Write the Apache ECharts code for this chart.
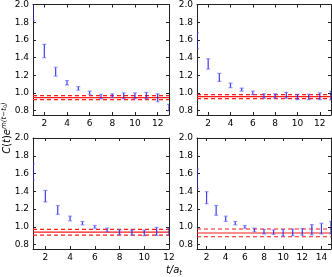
<!DOCTYPE html>
<html><head><meta charset="utf-8">
<script src="https://cdn.jsdelivr.net/npm/echarts@6/dist/echarts.min.js"></script>
<style>html,body{margin:0;padding:0;background:#fff}#c{width:332px;height:277px}</style>
</head><body><div id="c"></div>
<script>
// ---- data ----
const yTicks = [0.8, 1.0, 1.2, 1.4, 1.6, 1.8, 2.0];
const xTicksA = [2, 4, 6, 8, 10, 12];
const xTicksB = [2, 4, 6, 8, 10, 12, 14];

const tlX  = [1, 2, 3, 4, 5, 6, 7, 8, 9, 10, 11, 12, 13];
const tlLo = [1.82, 1.40, 1.19, 1.09, 1.03, 0.985, 0.935, 0.95, 0.935, 0.935, 0.935, 0.90, 0.80];
const tlHi = [2.10, 1.55, 1.29, 1.14, 1.07, 1.02, 0.985, 0.99, 1.00, 1.00, 1.005, 0.99, 0.87];
const tlFit = [0.947, 0.970, 0.925];

const trX  = [1, 2, 3, 4, 5, 6, 7, 8, 9, 10, 11, 12, 13];
const trLo = [1.50, 1.27, 1.13, 1.06, 1.02, 0.98, 0.94, 0.94, 0.94, 0.925, 0.925, 0.925, 0.92];
const trHi = [1.68, 1.385, 1.22, 1.11, 1.055, 1.02, 0.99, 0.99, 1.007, 0.985, 0.985, 1.00, 1.02];
const trFit = [0.957, 0.981, 0.935];

const blX  = [1, 2, 3, 4, 5, 6, 7, 8, 9, 10, 11, 12];
const blLo = [1.53, 1.28, 1.14, 1.067, 1.022, 0.985, 0.944, 0.914, 0.907, 0.90, 0.903, 0.91];
const blHi = [1.71, 1.41, 1.24, 1.12, 1.06, 1.015, 0.985, 0.966, 0.963, 0.963, 0.993, 0.985];
const blFit = [0.94, 0.97, 0.907];

const brX  = [1, 2, 3, 4, 5, 6, 7, 8, 9, 10, 11, 12, 13, 14, 15];
const brLo = [1.43, 1.26, 1.13, 1.06, 1.022, 0.985, 0.944, 0.92, 0.915, 0.895, 0.90, 0.905, 0.91, 0.92, 0.92];
const brHi = [1.65, 1.395, 1.24, 1.12, 1.06, 1.015, 0.985, 0.97, 0.965, 0.97, 0.975, 0.98, 1.025, 1.04, 1.06];
const brFit = [0.93, 0.975, 0.888];

const panels = [
  {x: tlX, lo: tlLo, hi: tlHi, fit: tlFit, xmin: 1, xmax: 13, xt: xTicksA, grid: {left: 33, top: 4, width: 136, height: 111}},
  {x: trX, lo: trLo, hi: trHi, fit: trFit, xmin: 1, xmax: 13, xt: xTicksA, grid: {left: 197, top: 4, width: 134, height: 111}},
  {x: blX, lo: blLo, hi: blHi, fit: blFit, xmin: 1, xmax: 12, xt: xTicksA, grid: {left: 33, top: 138, width: 136, height: 111}},
  {x: brX, lo: brLo, hi: brHi, fit: brFit, xmin: 1, xmax: 15, xt: xTicksB, grid: {left: 197, top: 138, width: 134, height: 111}}
];

const axisCol = '#222';
const font = 'DejaVu Sans';
const grids = [], xAxes = [], yAxes = [], series = [];

panels.forEach((p, i) => {
  grids.push(p.grid);
  const xBase = {type: 'value', gridIndex: i, min: p.xmin, max: p.xmax,
    axisLine: {show: true, onZero: false, lineStyle: {color: axisCol, width: 1}},
    splitLine: {show: false},
    axisTick: {show: true, inside: true, length: 3, customValues: p.xt, lineStyle: {color: axisCol}}};
  xAxes.push(Object.assign({}, xBase, {position: 'bottom',
    axisLabel: {show: true, customValues: p.xt, color: '#000', fontSize: 9, fontFamily: font, margin: 4}}));
  xAxes.push(Object.assign({}, xBase, {position: 'top', axisLabel: {show: false}}));
  const yBase = {type: 'value', gridIndex: i, min: 0.75, max: 2.0,
    axisLine: {show: true, onZero: false, lineStyle: {color: axisCol, width: 1}},
    splitLine: {show: false},
    axisTick: {show: true, inside: true, length: 3, customValues: yTicks, lineStyle: {color: axisCol}}};
  yAxes.push(Object.assign({}, yBase, {position: 'left',
    axisLabel: {show: true, customValues: yTicks, color: '#000', fontSize: 9, fontFamily: font, margin: 4,
      formatter: v => v.toFixed(1)}}));
  yAxes.push(Object.assign({}, yBase, {position: 'right', axisLabel: {show: false}}));

  const xi = 2 * i, yi = 2 * i;
  // fit lines
  p.fit.forEach((v, k) => {
    series.push({type: 'line', xAxisIndex: xi, yAxisIndex: yi, symbol: 'none', silent: true,
      data: [[p.xmin, v], [p.xmax, v]], z: 1,
      lineStyle: {color: '#ff1a1a', width: 1.2, type: k === 0 ? 'solid' : [4, 3]}});
  });
  // error bars
  series.push({type: 'custom', xAxisIndex: xi, yAxisIndex: yi, clip: true, z: 3,
    data: p.x.map((x, k) => [x, p.lo[k], p.hi[k]]),
    renderItem: (params, api) => {
      const x = api.value(0), lo = api.value(1), hi = api.value(2);
      const a = api.coord([x, hi]), b = api.coord([x, lo]);
      const w = 2;
      return {type: 'group', children: [
        {type: 'line', shape: {x1: a[0], y1: a[1], x2: b[0], y2: b[1]}, style: {stroke: 'rgba(40,40,240,0.9)', lineWidth: 1.2}},
        {type: 'line', shape: {x1: a[0] - w, y1: a[1], x2: a[0] + w, y2: a[1]}, style: {stroke: 'rgba(90,90,255,0.6)', lineWidth: 1.2}},
        {type: 'line', shape: {x1: b[0] - w, y1: b[1], x2: b[0] + w, y2: b[1]}, style: {stroke: 'rgba(90,90,255,0.6)', lineWidth: 1.2}}
      ]};
    }});
});

const chart = echarts.init(document.getElementById('c'), null, {renderer: 'canvas'});
chart.setOption({
  animation: false,
  backgroundColor: '#fff',
  grid: grids, xAxis: xAxes, yAxis: yAxes, series: series,
  graphic: [
    {type: 'text', x: 174, y: 270, style: {
      text: '{i|t/a}{s|t}', align: 'center', verticalAlign: 'middle',
      rich: {i: {fontFamily: font, fontStyle: 'italic', fontSize: 10, fill: '#000'},
             s: {fontFamily: font, fontStyle: 'italic', fontSize: 7, fill: '#000', padding: [6, 0, 0, 0]}}}},
    {type: 'text', x: 7, y: 128, rotation: Math.PI / 2, style: {
      text: '{i|C}{n|(}{i|t}{n|)}{i|e}{s|m(t−t}{ss|0}{s|)}', align: 'center', verticalAlign: 'middle',
      rich: {i: {fontFamily: font, fontStyle: 'italic', fontSize: 10, fill: '#000'},
             n: {fontFamily: font, fontSize: 10, fill: '#000'},
             s: {fontFamily: font, fontStyle: 'italic', fontSize: 7, fill: '#000', padding: [0, 0, 6, 0]},
             ss: {fontFamily: font, fontSize: 5, fill: '#000', padding: [0, 0, 2, 0]}}}}
  ]
});
</script></body></html>
